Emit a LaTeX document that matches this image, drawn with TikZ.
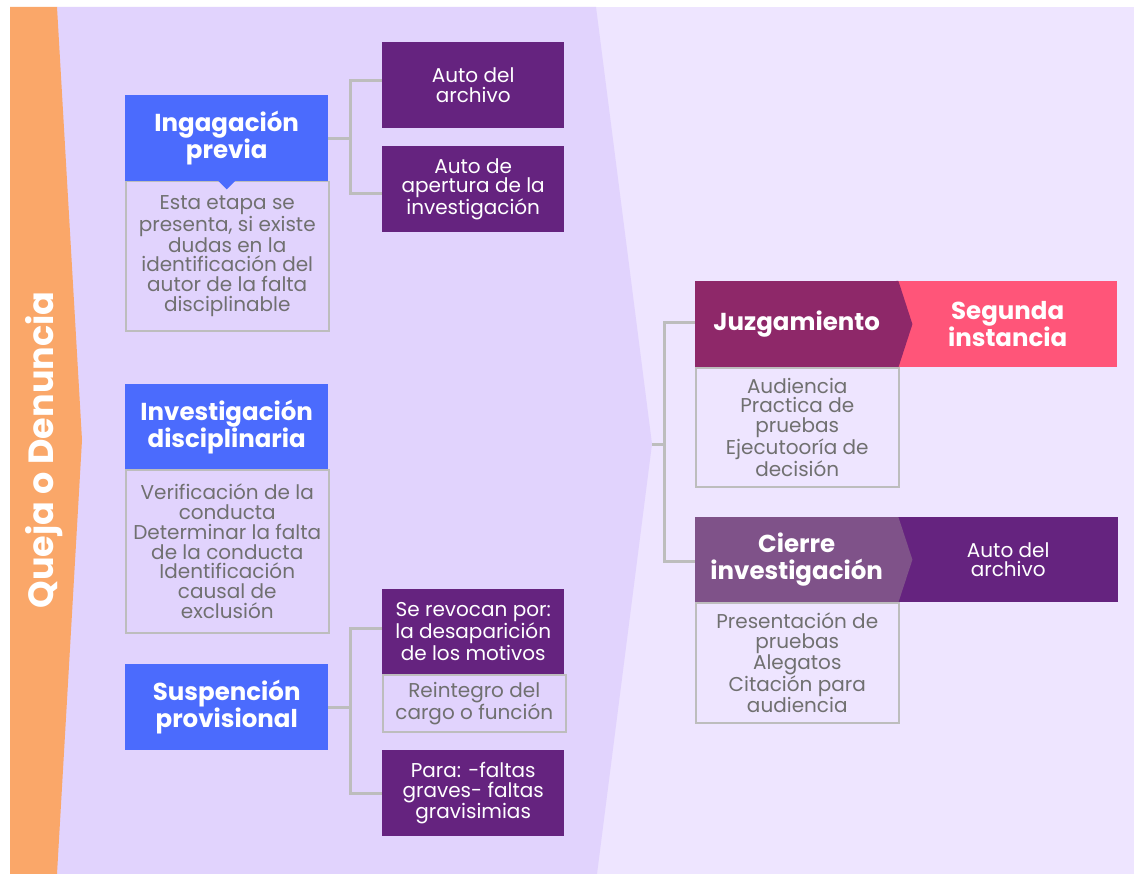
\documentclass[tikz,border=0pt]{standalone}
\usepackage{fontspec}
\setmainfont{Poppins}
\usetikzlibrary{calc}
\definecolor{orangeq}{HTML}{FAA769}
\definecolor{bgA}{HTML}{E1D3FD}
\definecolor{bgB}{HTML}{EEE5FF}
\definecolor{blueT}{HTML}{4B6BFD}
\definecolor{purD}{HTML}{65237F}
\definecolor{juzC}{HTML}{8E2869}
\definecolor{segC}{HTML}{FF5579}
\definecolor{cieC}{HTML}{7F5289}
\definecolor{txtG}{HTML}{707070}
\definecolor{lineG}{HTML}{BDBDBD}
\begin{document}
\begin{tikzpicture}[x=1pt,y=-1pt,
  titlebox/.style={fill=blueT, text=white, font=\fontsize{24.5}{27}\selectfont\bfseries, align=center, minimum width=203, minimum height=86, inner sep=0, anchor=north west},
  pbox/.style={fill=purD, text=white, font=\fontsize{20}{19.6}\selectfont, align=center, minimum width=182, minimum height=86, inner sep=0, anchor=north west},
  desc/.style={draw=lineG, line width=1.5, text=txtG, font=\fontsize{20}{19.8}\selectfont, align=center, inner sep=0, anchor=north west, minimum width=203},
  chev/.style={text=white, font=\fontsize{24.5}{27}\selectfont\bfseries, align=center, minimum width=203, minimum height=86, inner sep=0, anchor=north west},
  conn/.style={draw=lineG, line width=3}]
\useasboundingbox (0,0) rectangle (1134,874);
\fill[white] (0,0) rectangle (1134,874);
\fill[bgB] (596,7) rectangle (1134,874);
\fill[bgA] (57,7) -- (596,7) -- (652,444) -- (597,874) -- (57,874) -- cycle;
\fill[orangeq] (10,7) -- (57,7) -- (82,440) -- (57,874) -- (10,874) -- cycle;
\node[rotate=90, text=white, font=\fontsize{35}{36}\selectfont\bfseries] (q) at (44,450) {Queja o Denuncia};
\coordinate (tip) at (652,444);

% left column
\node[titlebox] (ing) at (125,95) {Ingagación\\previa};
\node[desc, minimum height=149] (ingd) at (125,181) {Esta etapa se\\presenta, si existe\\dudas en la\\identificación del\\autor de la falta\\disciplinable};
\fill[blueT] ($(ing.south)+(-9,-1)$) -- ($(ing.south)+(9,-1)$) -- ($(ing.south)+(0,8)$) -- cycle;
\node[pbox] (a1) at (382,42) {Auto del\\archivo};
\node[pbox] (a2) at (382,146) {Auto de\\apertura de la\\investigación};
\draw[conn] (ing.east) -- ++(22,0) |- ([yshift=5pt]a1.west);
\draw[conn] (ing.east) -- ++(22,0) |- ([yshift=-4pt]a2.west);

\node[titlebox, minimum height=85] (inv) at (125,384) {Investigación\\disciplinaria};
\node[desc, minimum height=163] (invd) at (125,469) {Verificación de la\\conducta\\Determinar la falta\\de la conducta\\Identificación\\causal de\\exclusión};

\node[titlebox] (sus) at (125,664) {Suspención\\provisional};
\node[pbox, minimum height=85] (rev) at (382,589) {Se revocan por:\\la desaparición\\de los motivos};
\node[desc, minimum width=183, minimum height=57] (rei) at (382,674) {Reintegro del\\cargo o función};
\node[pbox] (para) at (382,750) {Para: -faltas\\graves- faltas\\gravisimias};
\draw[conn] (sus.east) -- ++(22,0) |- ([yshift=3pt]rev.west);
\draw[conn] (sus.east) -- ++(22,0) |- (para.west);

% right column
\node[chev, fill=segC, minimum width=223] (seg) at (894,281) {\hspace*{4pt}Segunda\\\hspace*{4pt}instancia};
\node[chev, fill=juzC] (juz) at (695,281) {Juzgamiento};
\fill[juzC] ($(juz.north east)+(-2,0)$) -- (juz.north east) -- ($(juz.east)+(14,0)$) -- (juz.south east) -- ($(juz.south east)+(-2,0)$) -- cycle;
\node[desc, minimum height=119] (juzd) at (695,367) {Audiencia\\Practica de\\pruebas\\Ejecutooría de\\decisión};

\node[pbox, minimum width=224, minimum height=85] (a3) at (894,517) {\hspace*{4pt}Auto del\\\hspace*{4pt}archivo};
\node[chev, fill=cieC, minimum height=85] (cie) at (695,517) {Cierre\\investigación};
\fill[cieC] ($(cie.north east)+(-2,0)$) -- (cie.north east) -- ($(cie.east)+(14,0)$) -- (cie.south east) -- ($(cie.south east)+(-2,0)$) -- cycle;
\node[desc, minimum height=120] (cied) at (695,602) {Presentación de\\pruebas\\Alegatos\\Citación para\\audiencia};

\draw[conn] (tip) -- ++(12,0) |- ([yshift=2pt]juz.west);
\draw[conn] (tip) -- ++(12,0) |- ([yshift=-1.5pt]cie.west);
\end{tikzpicture}
\end{document}
